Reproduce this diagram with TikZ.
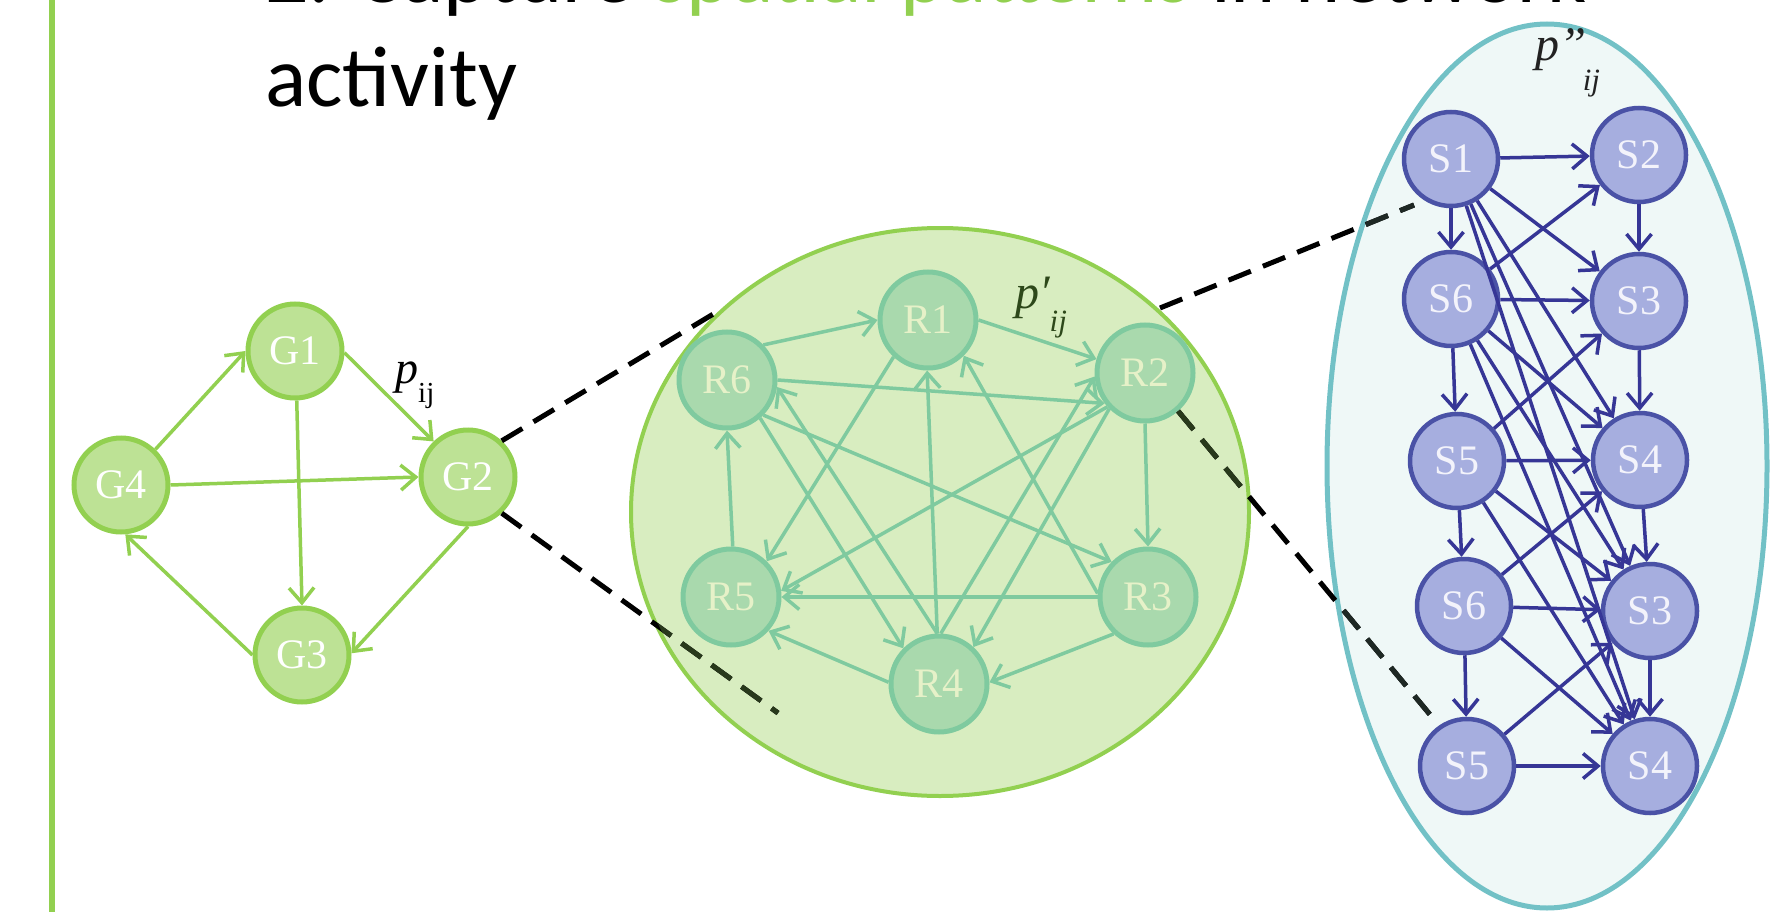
\documentclass[tikz,border=0pt]{standalone}
\usepackage{fontspec}
\setmainfont{Liberation Serif}
\newfontfamily\titlefont{Carlito}
\usetikzlibrary{arrows.meta,shapes.geometric}

\definecolor{ggreen}{HTML}{92D050}
\definecolor{gfill}{HTML}{BDE295}
\definecolor{rzonefill}{HTML}{D8EDC0}
\definecolor{rfill}{HTML}{A9D9AD}
\definecolor{rline}{HTML}{7FCA9F}
\definecolor{rtext}{HTML}{E6F1C8}
\definecolor{szonefill}{HTML}{EFF8F7}
\definecolor{szoneline}{HTML}{72C1C6}
\definecolor{sfill}{HTML}{A6AEDF}
\definecolor{sborder}{HTML}{4A52A6}
\definecolor{sedge}{HTML}{363696}
\definecolor{stext}{HTML}{F3F3FB}
\definecolor{dashinR}{HTML}{28391B}
\definecolor{dashinS}{HTML}{1E2824}
\definecolor{plabel}{HTML}{2D481A}
\definecolor{pdark}{HTML}{222222}

\newcommand\lblfont{\fontsize{42}{44}\selectfont}

\tikzset{
  gnode/.style={circle, draw=ggreen, fill=gfill, line width=5pt,
    minimum size=94pt, inner sep=0pt, text=white, font=\lblfont},
  rnode/.style={circle, draw=rline, fill=rfill, line width=5pt,
    minimum size=96pt, inner sep=0pt, text=rtext, font=\lblfont},
  snode/.style={circle, draw=sborder, fill=sfill, line width=4.5pt,
    minimum size=94pt, inner sep=0pt, text=stext, font=\lblfont},
  tipped/.style={-{Straight Barb[length=15pt,width=25pt]}},
  gedge/.style={draw=ggreen, line width=3.5pt, tipped},
  redge/.style={draw=rline, line width=3.5pt, tipped},
  sedgestyle/.style={draw=sedge, line width=3.5pt, tipped},
  zoomline/.style={line width=5pt, dash pattern=on 24pt off 13pt},
}

\begin{document}
\begin{tikzpicture}[x=1pt,y=-1pt]
\useasboundingbox (0,0) rectangle (1774,912);
\clip (0,0) rectangle (1774,912);

% left accent bar
\fill[ggreen] (49,0) rectangle (55,912);

% heading
\node[anchor=base west, inner sep=0pt, font=\titlefont\fontsize{86}{100}\selectfont]
  (head1) at (265,3) {2. Capture \textcolor{ggreen}{spatial patterns} in network};
\node[anchor=base west, inner sep=0pt, font=\titlefont\fontsize{86}{100}\selectfont]
  (head2) at (265,107) {activity};

% zoom regions
\node[ellipse, draw=ggreen, fill=rzonefill, line width=4pt,
  minimum width=618pt, minimum height=568pt, inner sep=0pt] (rzone) at (940,512) {};
\node[ellipse, draw=szoneline, fill=szonefill, line width=5pt,
  minimum width=440pt, minimum height=884pt, inner sep=0pt] (szone) at (1547,466) {};

% nodes
\node[gnode] (g1) at (295,351) {G1};
\node[gnode] (g2) at (468,477) {G2};
\node[gnode] (g3) at (302,655) {G3};
\node[gnode] (g4) at (121,485) {G4};

\node[rnode] (r1) at (928,320) {R1};
\node[rnode] (r2) at (1145,373) {R2};
\node[rnode] (r3) at (1148,597) {R3};
\node[rnode] (r4) at (939,684) {R4};
\node[rnode] (r5) at (731,597) {R5};
\node[rnode] (r6) at (727,380) {R6};

\node[snode] (s1)  at (1451,159) {S1};
\node[snode] (s2)  at (1639,155) {S2};
\node[snode] (s6a) at (1451,299) {S6};
\node[snode] (s3a) at (1639,301) {S3};
\node[snode] (s5a) at (1457,461) {S5};
\node[snode] (s4a) at (1640,460) {S4};
\node[snode] (s6b) at (1464,606) {S6};
\node[snode] (s3b) at (1650,611) {S3};
\node[snode] (s5b) at (1467,766) {S5};
\node[snode] (s4b) at (1650,766) {S4};

% zoom guide lines
\coordinate (aend) at (720,310);
\coordinate (bend) at (778,713);
\coordinate (cstart) at (1160,308);
\coordinate (cend) at (1414,205);
\coordinate (dend) at (1432,717);
\draw[zoomline] (g2.47) -- (aend);
\draw[zoomline] (g2.-47) -- (bend);
\draw[zoomline] (cstart) -- (cend);
\draw[zoomline] (r2.-49) -- (dend);
\begin{scope}
  \clip (940,512) ellipse [x radius=307pt, y radius=282pt];
  \draw[zoomline, dashinR] (g2.47) -- (aend);
  \draw[zoomline, dashinR] (g2.-47) -- (bend);
  \draw[zoomline, dashinR] (r2.-49) -- (dend);
\end{scope}
\begin{scope}
  \clip (1547,466) ellipse [x radius=218pt, y radius=440pt];
  \draw[zoomline, dashinS] (cstart) -- (cend);
  \draw[zoomline, dashinS] (r2.-49) -- (dend);
\end{scope}

% G graph
\draw[gedge] (g1.-2) -- (g2.134);
\draw[gedge] (g4.46) -- (g1.180);
\draw[gedge] (g4.0) -- (g2.180);
\draw[gedge] (g1.-88) -- (g3.90);
\draw[gedge] (g2.-90) -- (g3.2);
\draw[gedge] (g3.180) -- (g4.-85);

% R graph
\draw[redge] (r6.44) -- (r1.180);
\draw[redge] (r1.0) -- (r2.164);
\draw[redge] (r6.0) -- (r2.217);
\draw[redge] (r1.227) -- (r5.45);
\draw[redge] (r4.92) -- (r1.269);
\draw[redge] (r3.176) -- (r1.-45);
\draw[redge] (r6.-44) -- (r3.136);
\draw[redge] (r6.-49) -- (r4.135);
\draw[redge] (r4.92) -- (r6.-8);
\draw[redge] (r2.222) -- (r5.7);
\draw[redge] (r4.88) -- (r2.184);
\draw[redge] (r2.-135) -- (r4.47);
\draw[redge] (r2.-90) -- (r3.90);
\draw[redge] (r3.180) -- (r5.0);
\draw[redge] (r3.-133) -- (r4.2);
\draw[redge] (r4.178) -- (r5.-42);
\draw[redge] (r5.88) -- (r6.-90);

% S graph
\foreach \a/\b in {s1/s2, s6a/s3a, s5a/s4a, s6b/s3b, s5b/s4b,
                   s1/s6a, s6a/s5a, s5a/s6b, s6b/s5b,
                   s2/s3a, s3a/s4a, s4a/s3b, s3b/s4b,
                   s6a/s2, s5a/s3a, s6b/s4a, s5b/s3b,
                   s1/s3a, s1/s4a, s1/s3b, s1/s4b,
                   s6a/s4a, s6a/s3b, s6a/s4b,
                   s5a/s3b, s5a/s4b, s6b/s4b}
  \draw[sedgestyle] (\a) -- (\b);

% probability labels
\node[anchor=base west, inner sep=0pt, text=black] (pg) at (395,383)
  {\fontsize{46}{46}\selectfont\itshape p\upshape\raisebox{-19pt}{\fontsize{29}{29}\selectfont ij}};
\node[anchor=base west, inner sep=0pt, text=plabel] (pr) at (1015,308)
  {\fontsize{48}{48}\selectfont\itshape p′\raisebox{-23pt}{\fontsize{31}{31}\selectfont ij}};
\node[anchor=base west, inner sep=0pt, text=pdark] (ps) at (1535,61)
  {\fontsize{48}{48}\selectfont\itshape p’’\kern-3pt\raisebox{-30pt}{\fontsize{31}{31}\selectfont ij}};
\end{tikzpicture}
\end{document}
